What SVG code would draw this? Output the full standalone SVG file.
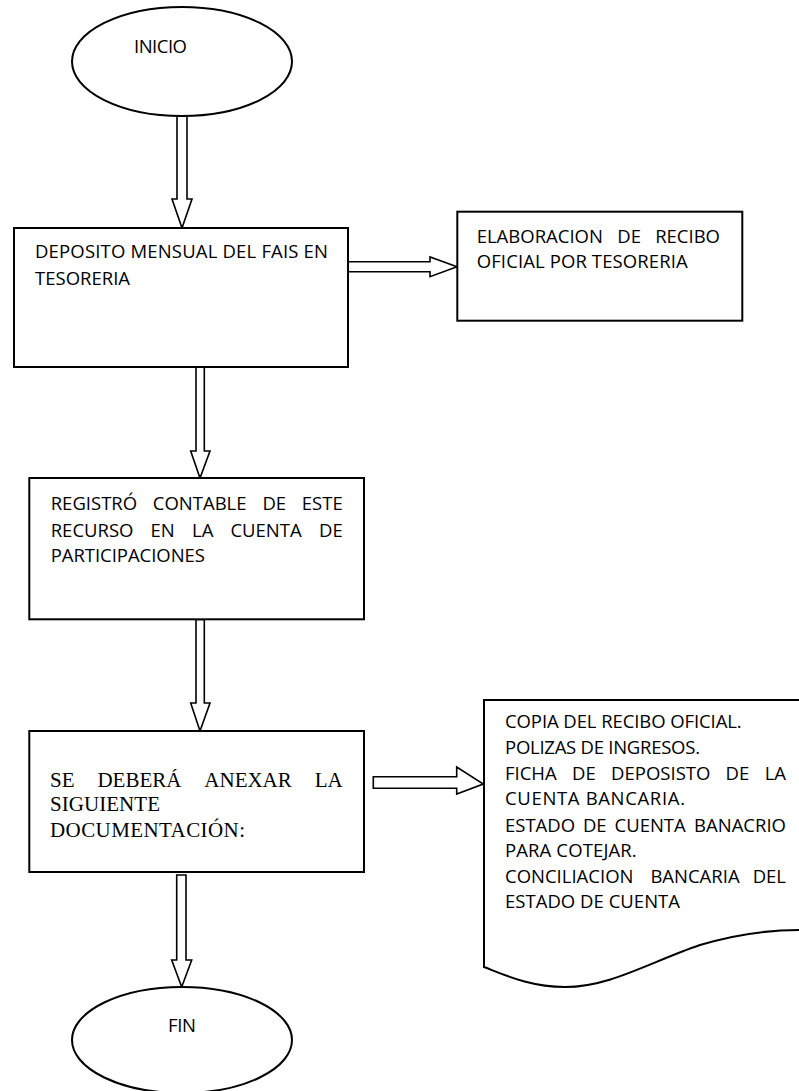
<svg xmlns="http://www.w3.org/2000/svg" width="799" height="1091" viewBox="0 0 799 1091">
<style>
.shape{fill:#fff;stroke:#000;stroke-width:2}
.arrow{fill:#fff;stroke:#000;stroke-width:1.6;stroke-linejoin:miter}
.t{font-family:"Open Sans","Liberation Sans",sans-serif;font-size:18.5px;fill:#000}
.e{text-anchor:end}
.s{font-family:"Liberation Serif","Times New Roman",serif;font-size:21px;fill:#000}
</style>
<rect width="799" height="1091" fill="#fff"/>
<g id="connectors">
<polygon class="arrow" points="177,116 187,116 187,199 192,199 182,228 172,199 177,199"/>
<polygon class="arrow" points="196,367 204.3,367 204.3,451 210,451 200,478 190.7,451 196,451"/>
<polygon class="arrow" points="196,619.5 204.3,619.5 204.3,703 210,703 200,731 190.7,703 196,703"/>
<polygon class="arrow" points="176.7,875 186,875 186,960 191.7,960 181.7,987 171.7,960 176.7,960"/>
<polygon class="arrow" points="348,261.7 430,261.7 430,257 457,266.7 430,276.7 430,271.7 348,271.7"/>
<polygon class="arrow" points="373.3,776.7 456.7,776.7 456.7,767 483.3,784 456.7,794 456.7,788.3 373.3,788.3"/>
</g>
<g id="inicio">
<ellipse class="shape" cx="182" cy="61.5" rx="110" ry="54.5"/>
<text class="t" x="134" y="53" textLength="53">INICIO</text>
</g>
<g id="deposito">
<rect class="shape" x="14" y="228" width="334" height="139"/>
<text class="t" x="35" y="258" textLength="293">DEPOSITO MENSUAL DEL FAIS EN</text>
<text class="t" x="35" y="285" textLength="95">TESORERIA</text>
</g>
<g id="elaboracion">
<rect class="shape" x="457.3" y="211.7" width="285" height="109"/>
<text class="t" x="476.7" y="243">ELABORACION</text>
<text class="t" x="617.3" y="243">DE</text>
<text class="t e" x="720" y="243">RECIBO</text>
<text class="t" x="476.7" y="268" textLength="211">OFICIAL POR TESORERIA</text>
</g>
<g id="registro">
<rect class="shape" x="29.3" y="478" width="334.7" height="141.3"/>
<text class="t" x="50.7" y="510">REGISTRÓ</text>
<text class="t" x="152.8" y="510">CONTABLE</text>
<text class="t" x="262.4" y="510">DE</text>
<text class="t e" x="342.7" y="510">ESTE</text>
<text class="t" x="50.7" y="536.7">RECURSO</text>
<text class="t" x="150.6" y="536.7">EN</text>
<text class="t" x="192" y="536.7">LA</text>
<text class="t" x="230.4" y="536.7">CUENTA</text>
<text class="t e" x="342.7" y="536.7">DE</text>
<text class="t" x="50.7" y="562" textLength="154.3">PARTICIPACIONES</text>
</g>
<g id="anexar">
<rect class="shape" x="29.3" y="731" width="334.7" height="141"/>
<text class="s" x="50" y="787">SE</text>
<text class="s" x="97.4" y="787">DEBERÁ</text>
<text class="s" x="204.3" y="787">ANEXAR</text>
<text class="s e" x="342.7" y="787">LA</text>
<text class="s" x="50" y="811" textLength="110">SIGUIENTE</text>
<text class="s" x="50" y="837" textLength="195">DOCUMENTACIÓN:</text>
</g>
<g id="documentacion">
<path class="shape" d="M484,967 L484,700 L802,700 L802,930 L799,930 C770,930 740,933 700,945 C650,962 610,987 565,987 C530,987 505,975 484,967 Z"/>
<text class="t" x="505" y="727.7" textLength="236.7">COPIA DEL RECIBO OFICIAL.</text>
<text class="t" x="505" y="754" textLength="195">POLIZAS DE INGRESOS.</text>
<text class="t" x="505" y="780">FICHA</text>
<text class="t" x="572" y="780">DE</text>
<text class="t" x="611.1" y="780">DEPOSISTO</text>
<text class="t" x="725.5" y="780">DE</text>
<text class="t e" x="786" y="780">LA</text>
<text class="t" x="505" y="805" textLength="180">CUENTA BANCARIA.</text>
<text class="t" x="505" y="831.7">ESTADO</text>
<text class="t" x="582.9" y="831.7">DE</text>
<text class="t" x="614.5" y="831.7">CUENTA</text>
<text class="t e" x="786" y="831.7">BANACRIO</text>
<text class="t" x="505" y="857" textLength="131.7">PARA COTEJAR.</text>
<text class="t" x="505" y="883">CONCILIACION</text>
<text class="t" x="650.4" y="883">BANCARIA</text>
<text class="t e" x="786" y="883">DEL</text>
<text class="t" x="505" y="908" textLength="175">ESTADO DE CUENTA</text>
</g>
<g id="fin">
<ellipse class="shape" cx="182" cy="1040" rx="110" ry="53"/>
<text class="t" x="168" y="1031.7" textLength="28">FIN</text>
</g>
</svg>
